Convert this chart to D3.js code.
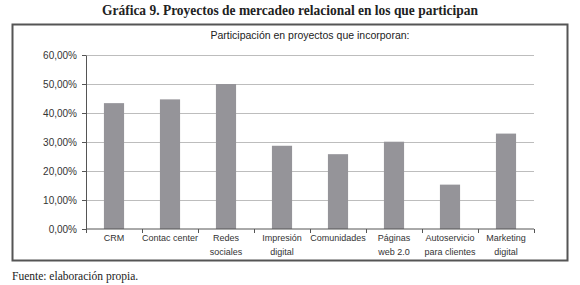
<!DOCTYPE html>
<html>
<head>
<meta charset="utf-8">
<script src="https://cdn.jsdelivr.net/npm/d3@7"></script>
<style>
  body { margin: 0; background: #fff; }
  svg { display: block; }
</style>
</head>
<body>
<svg id="chart" width="580" height="285"></svg>
<script>
const categories = [
  ["CRM"],
  ["Contac center"],
  ["Redes", "sociales"],
  ["Impresión", "digital"],
  ["Comunidades"],
  ["Páginas", "web 2.0"],
  ["Autoservicio", "para clientes"],
  ["Marketing", "digital"]
];
const values = [0.434, 0.447, 0.500, 0.287, 0.258, 0.301, 0.153, 0.329];
const yTicks = [0, 0.1, 0.2, 0.3, 0.4, 0.5, 0.6];

const serif = "'Liberation Serif', 'Times New Roman', serif";
const sans = "'Liberation Sans', Arial, sans-serif";

const svg = d3.select("#chart");
const margin = { top: 55, right: 46, bottom: 56, left: 86 };
const width = 580, height = 285;

const x = d3.scaleBand()
  .domain(d3.range(categories.length))
  .range([margin.left, width - margin.right])
  .paddingInner(0.64)
  .paddingOuter(0.32);

const y = d3.scaleLinear()
  .domain([0, 0.6])
  .range([height - margin.bottom, margin.top]);

const fmt = v => (v * 100).toFixed(2).replace(".", ",") + "%";

// title
svg.append("text")
  .attr("x", 290).attr("y", 15)
  .attr("text-anchor", "middle")
  .style("font-family", serif)
  .attr("font-weight", "bold")
  .attr("font-size", 15)
  .attr("fill", "#222")
  .attr("textLength", 376)
  .attr("lengthAdjust", "spacingAndGlyphs")
  .text("Gráfica 9. Proyectos de mercadeo relacional en los que participan");

// frame
svg.append("rect")
  .attr("x", 12.5).attr("y", 24.5)
  .attr("width", 555).attr("height", 236)
  .attr("fill", "none")
  .attr("stroke", "#555")
  .attr("stroke-width", 2);

svg.append("text")
  .attr("x", 310).attr("y", 39)
  .attr("text-anchor", "middle")
  .style("font-family", sans)
  .attr("font-size", 10.5)
  .attr("fill", "#222")
  .text("Participación en proyectos que incorporan:");

// grid
svg.append("g")
  .selectAll("line")
  .data(yTicks.slice(1))
  .join("line")
  .attr("x1", margin.left).attr("x2", width - margin.right)
  .attr("y1", d => Math.round(y(d)) + 0.5).attr("y2", d => Math.round(y(d)) + 0.5)
  .attr("stroke", "#bdbdbd")
  .attr("stroke-width", 1);

// bars
svg.append("g")
  .attr("fill", "#959499")
  .selectAll("rect")
  .data(values)
  .join("rect")
  .attr("x", (d, i) => x(i))
  .attr("width", x.bandwidth())
  .attr("y", d => y(d))
  .attr("height", d => y(0) - y(d));

// y axis
const yAxis = svg.append("g")
  .attr("transform", `translate(${margin.left},0)`)
  .call(d3.axisLeft(y).tickValues(yTicks).tickFormat(fmt).tickSize(4).tickSizeOuter(0));
yAxis.selectAll("text")
  .style("font-family", sans)
  .attr("font-size", 10)
  .attr("fill", "#333")
  .attr("dx", -2);
yAxis.selectAll("line, path").attr("stroke", "#555");

// x axis
const step = x.step();
const xAxis = svg.append("g")
  .attr("transform", `translate(0,${y(0)})`);
xAxis.append("line")
  .attr("x1", margin.left).attr("x2", width - margin.right)
  .attr("stroke", "#555");
xAxis.selectAll(".tk")
  .data(d3.range(categories.length + 1))
  .join("line")
  .attr("class", "tk")
  .attr("x1", i => margin.left + i * step + 0.5)
  .attr("x2", i => margin.left + i * step + 0.5)
  .attr("y1", 0).attr("y2", 4)
  .attr("stroke", "#555");
const labels = xAxis.selectAll(".lbl")
  .data(categories)
  .join("text")
  .attr("class", "lbl")
  .attr("text-anchor", "middle")
  .style("font-family", sans)
  .attr("font-size", 9)
  .attr("fill", "#333")
  .attr("transform", (d, i) => `translate(${x(i) + x.bandwidth() / 2},0)`);
labels.selectAll("tspan")
  .data(d => d)
  .join("tspan")
  .attr("x", 0)
  .attr("y", (d, j) => 12 + j * 13.5)
  .text(d => d);

// footer
svg.append("text")
  .attr("x", 12).attr("y", 280)
  .style("font-family", serif)
  .attr("font-size", 11.5)
  .attr("fill", "#222")
  .text("Fuente: elaboración propia.");
</script>
</body>
</html>
